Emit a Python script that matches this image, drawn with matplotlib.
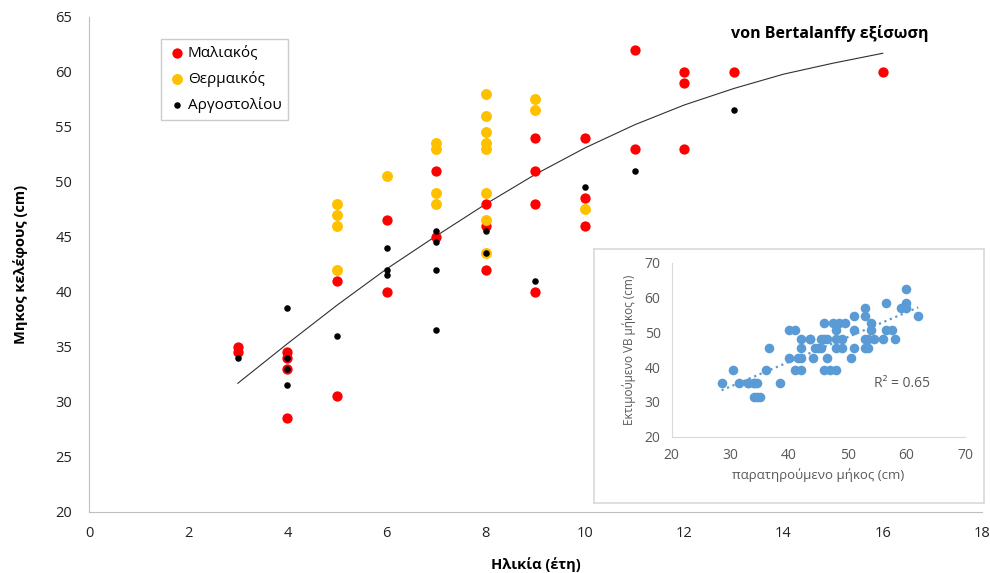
import numpy as np
import matplotlib
matplotlib.use('Agg')
import matplotlib.pyplot as plt

plt.rcParams['font.family'] = ['Open Sans', 'DejaVu Sans']

# observed shell length (cm) by age (years), per area
mal_age = [3, 3, 4, 4, 4, 4, 5, 5, 6, 6, 7, 7, 8, 8, 8, 9, 9, 9, 9, 10, 10, 10, 11, 11, 12, 12, 12, 13, 16]
mal_len = [35, 34.5, 34.5, 34, 33, 28.5, 41, 30.5, 46.5, 40, 51, 45, 48, 46, 42, 54, 51, 48, 40, 54, 48.5, 46, 62, 53, 60, 59, 53, 60, 60]

therm_age = [5, 5, 5, 5, 6, 7, 7, 7, 7, 8, 8, 8, 8, 8, 8, 8, 8, 9, 9, 10]
therm_len = [48, 47, 46, 42, 50.5, 53.5, 53, 49, 48, 58, 56, 54.5, 53.5, 53, 49, 46.5, 43.5, 57.5, 56.5, 47.5]

arg_age = [3, 4, 4, 4, 4, 5, 6, 6, 6, 7, 7, 7, 7, 8, 8, 9, 10, 11, 13]
arg_len = [34, 38.5, 34, 33, 31.5, 36, 44, 42, 41.5, 45.5, 44.5, 42, 36.5, 45.5, 43.5, 41, 49.5, 51, 56.5]

# von Bertalanffy curve
vb_age = [3, 4, 5, 6, 7, 8, 9, 10, 11, 12, 13, 14, 15, 16]
vb_len = [31.7, 35.3, 38.8, 42.1, 45.1, 48.0, 50.7, 53.1, 55.2, 57.0, 58.5, 59.8, 60.8, 61.7]

# VB-predicted length per age (inset)
pred_by_age = {3: 31.5, 4: 35.3, 5: 39.1, 6: 42.5, 7: 45.6, 8: 48.2, 9: 50.6,
               10: 52.8, 11: 54.8, 12: 57.0, 13: 58.4, 16: 62.4}

fig = plt.figure(figsize=(9.9, 5.73), dpi=100)
ax = fig.add_axes([0.0899, 0.1065, 0.902, 0.8639])

ax.scatter(mal_age, mal_len, s=55, color='#ff0000', linewidths=0, label='Μαλιακός', zorder=3)
ax.scatter(therm_age, therm_len, s=62, color='#ffc000', linewidths=0, label='Θερμαικός', zorder=4)
ax.scatter(arg_age, arg_len, s=22, color='black', linewidths=0, label='Αργοστολίου', zorder=5)
ax.plot(vb_age, vb_len, color='#303030', lw=0.8, zorder=2)

ax.set_xlim(0, 18)
ax.set_ylim(20, 65)
ax.set_xticks(range(0, 19, 2))
ax.set_yticks(range(20, 66, 5))
ax.tick_params(length=0, labelsize=10.5, colors='#222222')
ax.tick_params(axis='y', pad=12)
ax.tick_params(axis='x', pad=10)
for s in ['top', 'right']:
    ax.spines[s].set_visible(False)
for s in ['left', 'bottom']:
    ax.spines[s].set_color('#bfbfbf')
ax.set_xlabel('Ηλικία (έτη)', fontsize=10.5, fontweight='bold', labelpad=12)
ax.set_ylabel('Μηκος κελέφους (cm)', fontsize=10.5, fontweight='bold', labelpad=20)

leg = ax.legend(loc='upper left', bbox_to_anchor=(0.0806, 0.9556), borderaxespad=0,
                fontsize=11, fancybox=False, edgecolor='#bfbfbf', handletextpad=0.1,
                borderpad=0.45, labelspacing=0.65, handlelength=1.2)
leg.get_frame().set_linewidth(1.0)

fig.text(0.838, 0.942, 'von Bertalanffy εξίσωση', ha='center', va='center',
         fontsize=11.5, fontweight='bold')

# inset frame
box = fig.add_axes([0.6, 0.1216, 0.394, 0.4438])
box.set_xticks([])
box.set_yticks([])
for s in box.spines.values():
    s.set_color('#d9d9d9')
    s.set_linewidth(1.2)

obs = mal_len + therm_len + arg_len
pred = [pred_by_age[a] for a in mal_age + therm_age + arg_age]

ins = fig.add_axes([0.6785, 0.2379, 0.2963, 0.3037])
ins.scatter(obs, pred, s=48, color='#5b9bd5', linewidths=0, zorder=3)
k, b = np.polyfit(obs, pred, 1)
xs = np.array([min(obs), max(obs)])
ins.plot(xs, k * xs + b, linestyle=':', color='#5b9bd5', lw=1.6, zorder=2)
ins.set_xlim(20, 70)
ins.set_ylim(20, 70)
ins.set_xticks(range(20, 71, 10))
ins.set_yticks(range(20, 71, 10))
ins.tick_params(length=0, labelsize=10, colors='#595959', pad=8)
for s in ['top', 'right']:
    ins.spines[s].set_visible(False)
for s in ['left', 'bottom']:
    ins.spines[s].set_color('#d9d9d9')
ins.set_xlabel('παρατηρούμενο μήκος (cm)', fontsize=9.5, color='#595959', labelpad=4)
ins.set_ylabel('Εκτιμούμενο VB μήκος (cm)', fontsize=8.5, color='#595959', labelpad=6)
ins.text(54.4, 35.2, 'R² = 0.65', fontsize=10, color='#595959', va='center')

fig.savefig('out.png', dpi=100)
